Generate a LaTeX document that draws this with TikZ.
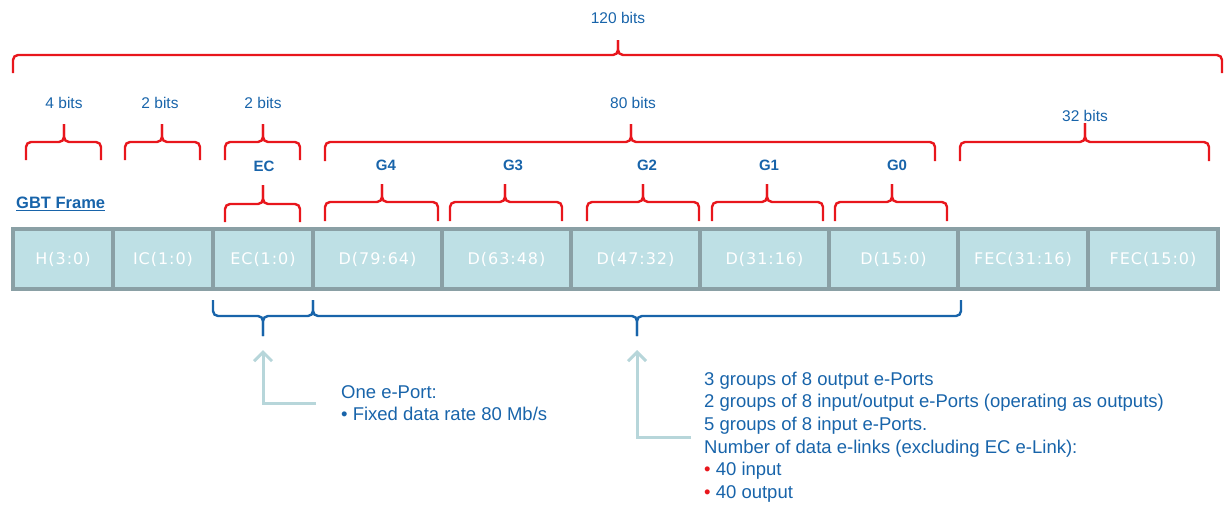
\documentclass[tikz,border=0pt]{standalone}
\usepackage{fontspec}
\setmainfont{Liberation Sans}
\newfontfamily\cellfont[LetterSpace=6]{DejaVu Sans}
\usetikzlibrary{arrows.meta, positioning}

\definecolor{gbtblue}{RGB}{24,100,170}
\definecolor{gbtred}{RGB}{232,22,28}
\definecolor{cellfill}{RGB}{190,224,229}
\definecolor{cellline}{RGB}{138,160,165}
\definecolor{notearrow}{RGB}{183,214,218}

% one brace: colour, x left, x right, x tip, y ends, y line, y tip
\newcommand{\bitbrace}[7][gbtred]{%
  \draw[bracket, #1] (#2,#5) |- (#4,#6) -- (#4,#7);
  \draw[bracket, #1] (#3,#5) |- (#4,#6) -- (#4,#7);}

\begin{document}
\begin{tikzpicture}[x=1pt, y=-1pt,
    bracket/.style={line width=2.4pt, rounded corners=5pt},
    cell/.style={draw=cellline, fill=cellfill, line width=4pt, outer sep=0pt,
      minimum height=60pt, text=white, font=\cellfont\fontsize{16}{18}\selectfont},
    bits/.style={text=gbtblue, font=\fontsize{15.5}{18}\selectfont},
    group/.style={text=gbtblue, font=\bfseries\fontsize{15}{18}\selectfont},
    note/.style={text=gbtblue, align=left, anchor=west, inner sep=0pt},
    note arrow/.style={draw=notearrow, line width=3pt, -{Straight Barb[length=9pt, width=18pt]}}]
  \useasboundingbox (0,0) rectangle (1224,512);

  % the frame
  \node[cell, minimum width=100pt] (h) at (63,259) {H(3:0)};
  \node[cell, minimum width=100pt, right=0pt of h] (ic) {IC(1:0)};
  \node[cell, minimum width=100pt, right=0pt of ic] (ec) {EC(1:0)};
  \node[cell, minimum width=129pt, right=0pt of ec] (d4) {D(79:64)};
  \node[cell, minimum width=129pt, right=0pt of d4] (d3) {D(63:48)};
  \node[cell, minimum width=129pt, right=0pt of d3] (d2) {D(47:32)};
  \node[cell, minimum width=129pt, right=0pt of d2] (d1) {D(31:16)};
  \node[cell, minimum width=129pt, right=0pt of d1] (d0) {D(15:0)};
  \node[cell, minimum width=130pt, right=0pt of d0] (fec1) {FEC(31:16)};
  \node[cell, minimum width=130pt, right=0pt of fec1] (fec0) {FEC(15:0)};

  \node[text=gbtblue, anchor=west, inner sep=0pt, font=\bfseries\fontsize{16.5}{18}\selectfont]
    (frame) at (16,204) {\underline{GBT Frame}};

  % bit counts
  \bitbrace{13}{1222}{618}{73}{55}{40}
  \node[bits] (all) at (618,18) {120 bits};
  \bitbrace{26}{101}{64}{160}{142}{124}
  \node[bits] (hbits) at (64,103) {4 bits};
  \bitbrace{125}{200}{162}{160}{142}{124}
  \node[bits] (icbits) at (160,103) {2 bits};
  \bitbrace{225}{300}{263}{160}{142}{124}
  \node[bits] (ecbits) at (263,103) {2 bits};
  \bitbrace{325}{935}{631}{161}{142}{124}
  \node[bits] (dbits) at (633,103) {80 bits};
  \bitbrace{960}{1209}{1085}{161}{142}{123}
  \node[bits] (fecbits) at (1085,116) {32 bits};

  % groups
  \bitbrace{225}{300}{263}{222}{204}{185}
  \node[group] (gec) at (264,166) {EC};
  \bitbrace{325}{438}{382}{221}{202}{184}
  \node[group] (g4) at (386,165) {G4};
  \bitbrace{450}{562}{505}{221}{202}{184}
  \node[group] (g3) at (513,165) {G3};
  \bitbrace{587}{699}{643}{221}{202}{184}
  \node[group] (g2) at (647,165) {G2};
  \bitbrace{712}{823}{767}{221}{202}{184}
  \node[group] (g1) at (769,165) {G1};
  \bitbrace{835}{947}{892}{221}{202}{184}
  \node[group] (g0) at (897,165) {G0};

  % e-port braces below
  \bitbrace[gbtblue]{213}{313}{263}{300}{316}{336}
  \bitbrace[gbtblue]{313}{961}{637}{300}{316}{336}
  \coordinate (ectip) at (263,350);
  \coordinate (dtip) at (637,350);

  \node[note, font=\fontsize{18.5}{21.5}\selectfont] (ecnote) at (341,403)
    {One e-Port:\\\textbullet{} Fixed data rate 80 Mb/s};
  \node[note, font=\fontsize{18.5}{22.6}\selectfont] (dnote) at (704,437)
    {3 groups of 8 output e-Ports\\
     2 groups of 8 input/output e-Ports (operating as outputs)\\
     5 groups of 8 input e-Ports.\\
     Number of data e-links (excluding EC e-Link):\\
     \textcolor{gbtred}{\textbullet} 40 input\\
     \textcolor{gbtred}{\textbullet} 40 output};

  \draw[note arrow] ([xshift=-25pt]ecnote.west) -| (ectip);
  \draw[note arrow] ([xshift=-13pt]dnote.west) -| (dtip);
\end{tikzpicture}
\end{document}
